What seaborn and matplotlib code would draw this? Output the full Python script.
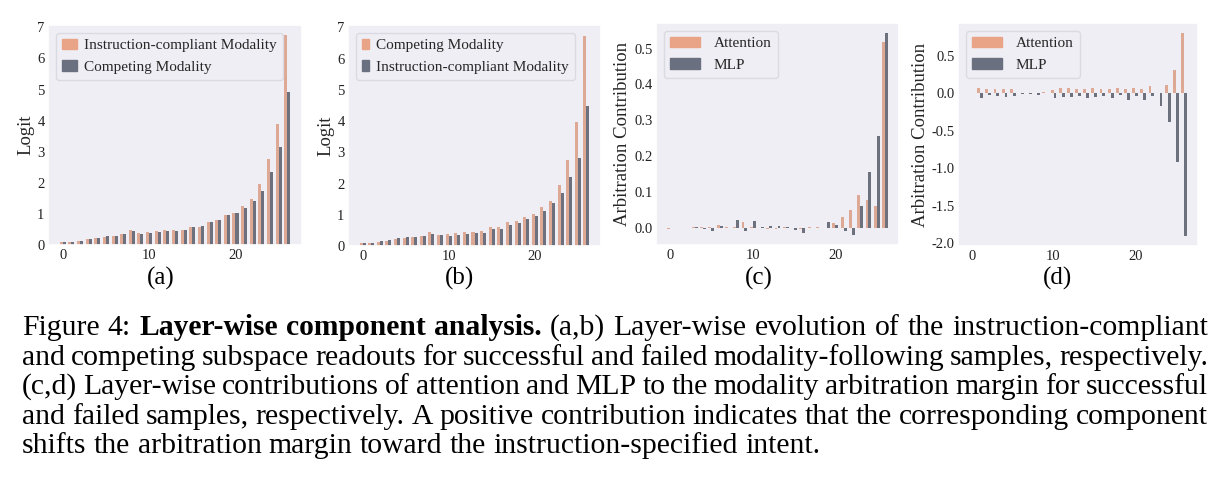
import matplotlib
matplotlib.use('Agg')
import matplotlib.pyplot as plt
import matplotlib.patches as mpatches
import seaborn as sns
import pandas as pd

# Layer-wise component analysis (4 panels + caption)

layers = list(range(27))

# (a) successful samples
a_compliant = [0.10, 0.11, 0.14, 0.18, 0.22, 0.27, 0.28, 0.34, 0.47, 0.39, 0.42, 0.46, 0.48, 0.48,
               0.49, 0.58, 0.58, 0.74, 0.79, 0.95, 1.04, 1.24, 1.47, 1.97, 2.77, 3.90, 6.74]
a_competing = [0.11, 0.11, 0.14, 0.19, 0.23, 0.28, 0.28, 0.35, 0.45, 0.36, 0.39, 0.43, 0.45, 0.45,
               0.48, 0.57, 0.60, 0.74, 0.80, 0.95, 1.02, 1.20, 1.41, 1.75, 2.35, 3.16, 4.92]

# (b) failed samples
b_competing = [0.10, 0.09, 0.12, 0.17, 0.22, 0.27, 0.28, 0.33, 0.44, 0.36, 0.40, 0.42, 0.45, 0.45,
               0.49, 0.60, 0.60, 0.76, 0.79, 0.92, 1.04, 1.24, 1.45, 1.96, 2.75, 3.97, 6.74]
b_compliant = [0.11, 0.10, 0.16, 0.20, 0.26, 0.29, 0.28, 0.33, 0.40, 0.34, 0.32, 0.35, 0.39, 0.42,
               0.43, 0.55, 0.55, 0.67, 0.74, 0.86, 0.97, 1.12, 1.38, 1.70, 2.20, 2.81, 4.49]

# (c) arbitration contribution, successful
c_attn = [-0.003, 0.0, 0.0, 0.002, 0.001, 0.001, 0.007, 0.001, 0.001, 0.015, 0.001, -0.002, -0.004,
          -0.004, 0.001, -0.002, -0.003, 0.002, 0.001, 0.0, 0.012, 0.029, 0.049, 0.092, 0.077, 0.060, 0.519]
c_mlp = [0.0, 0.0, 0.0, 0.001, -0.003, -0.008, 0.006, 0.0, 0.022, -0.010, 0.020, 0.001, 0.005,
         0.005, 0.001, -0.006, -0.015, 0.0, 0.0, 0.016, 0.008, -0.010, -0.020, 0.062, 0.155, 0.256, 0.543]

# (d) arbitration contribution, failed
d_attn = [0.0, 0.075, 0.053, 0.058, 0.050, 0.050, 0.0, 0.002, 0.005, 0.013, 0.040, 0.066, 0.070,
          0.062, 0.053, 0.066, 0.062, 0.053, 0.066, 0.062, 0.075, 0.053, 0.093, 0.003, 0.115, 0.305, 0.80]
d_mlp = [0.0, -0.066, -0.030, -0.040, -0.048, -0.035, -0.013, -0.005, -0.030, -0.002, -0.062, -0.053,
         -0.048, -0.035, -0.062, -0.048, -0.040, -0.062, -0.030, -0.090, -0.035, -0.090, -0.040,
         -0.170, -0.385, -0.916, -1.90]

caption = [
    [("Figure 4:", "normal"), ("Layer-wise component analysis.", "bold"),
     ("(a,b) Layer-wise evolution of the instruction-compliant", "normal")],
    [("and competing subspace readouts for successful and failed modality-following samples, respectively.", "normal")],
    [("(c,d) Layer-wise contributions of attention and MLP to the modality arbitration margin for successful", "normal")],
    [("and failed samples, respectively. A positive contribution indicates that the corresponding component", "normal")],
    [("shifts the arbitration margin toward the instruction-specified intent.", "normal")],
]

ORANGE = '#E9A488'
GRAY = '#6A7080'

sns.set_theme(style='dark')
plt.rcParams['font.family'] = ['Liberation Serif', 'DejaVu Serif']
plt.rcParams['axes.unicode_minus'] = False
plt.rcParams['axes.facecolor'] = '#EEEEF4'
plt.rcParams['legend.edgecolor'] = '#D6D6DE'

W, H = 1225, 491
fig = plt.figure(figsize=(W / 100, H / 100), dpi=100)


def add_ax(l, t, r, b):
    return fig.add_axes([l / W, 1 - b / H, (r - l) / W, (b - t) / H])


def draw(ax, first, second, names, ylabel, hl, htp):
    df = pd.DataFrame({
        'layer': layers + layers,
        'value': first + second,
        'series': [names[0]] * len(layers) + [names[1]] * len(layers),
    })
    sns.barplot(data=df, x='layer', y='value', hue='series', hue_order=names,
                palette=[ORANGE, GRAY], width=0.7, errorbar=None, native_scale=True,
                legend=False, linewidth=0, ax=ax)
    ax.set_xlim(-1.7, 27.7)
    ax.set_xticks([0, 10, 20])
    ax.set_xlabel('')
    ax.set_ylabel(ylabel, fontsize=13.5, labelpad=2)
    ax.tick_params(labelsize=10.5, colors='#222222', length=0)
    ax.tick_params(axis='x', pad=3)
    ax.tick_params(axis='y', pad=2.5)
    handles = [mpatches.Patch(color=ORANGE), mpatches.Patch(color=GRAY)]
    ax.legend(handles, names, loc='upper left', fontsize=11, handlelength=hl,
              handletextpad=htp, borderaxespad=0.5)


ax_a = add_ax(48, 25, 302, 245)
draw(ax_a, a_compliant, a_competing, ['Instruction-compliant Modality', 'Competing Modality'],
     'Logit', 1.0, 0.45)
ax_a.set_yticks(range(8))

ax_b = add_ax(348, 25, 601, 246)
draw(ax_b, b_competing, b_compliant, ['Competing Modality', 'Instruction-compliant Modality'],
     'Logit', 0.45, 0.5)
ax_b.set_yticks(range(8))

ax_c = add_ax(656, 23, 899, 245)
draw(ax_c, c_attn, c_mlp, ['Attention', 'MLP'], 'Arbitration Contribution', 2.0, 0.88)
ct = [0.0, 0.1, 0.2, 0.3, 0.4, 0.5]
ax_c.set_yticks(ct)
ax_c.set_yticklabels([f'{v:.1f}' for v in ct])

ax_d = add_ax(958, 23, 1198, 246)
draw(ax_d, d_attn, d_mlp, ['Attention', 'MLP'], 'Arbitration Contribution', 2.0, 0.88)
dt = [-2.0, -1.5, -1.0, -0.5, 0.0, 0.5]
ax_d.set_yticks(dt)
ax_d.set_yticklabels([f'{v:.1f}' for v in dt])

for label, cx in zip(['(a)', '(b)', '(c)', '(d)'], [161, 459, 759, 1058]):
    fig.text(cx / W, 1 - 278 / H, label, ha='center', va='center', fontsize=18, color='black')

# caption, justified line by line
CAP = 21.3
X0, X1 = 22, 1208
baselines = [335, 365, 394, 424, 453]
renderer = fig.canvas.get_renderer()
for i, (parts, yb) in enumerate(zip(caption, baselines)):
    words = []
    for text, weight in parts:
        for w in text.split():
            words.append((w, weight))
    artists, widths = [], []
    for w, weight in words:
        t = fig.text(0, 1 - yb / H, w, fontsize=CAP, fontweight=weight, va='baseline',
                     ha='left', color='black')
        widths.append(t.get_window_extent(renderer).width)
        artists.append(t)
    if i < len(caption) - 1:
        gap = (X1 - X0 - sum(widths)) / (len(words) - 1)
    else:
        gap = 0.25 * CAP * 100 / 72
    x = X0
    for t, wd in zip(artists, widths):
        t.set_x(x / W)
        x += wd + gap

fig.savefig('out.png', dpi=100)
